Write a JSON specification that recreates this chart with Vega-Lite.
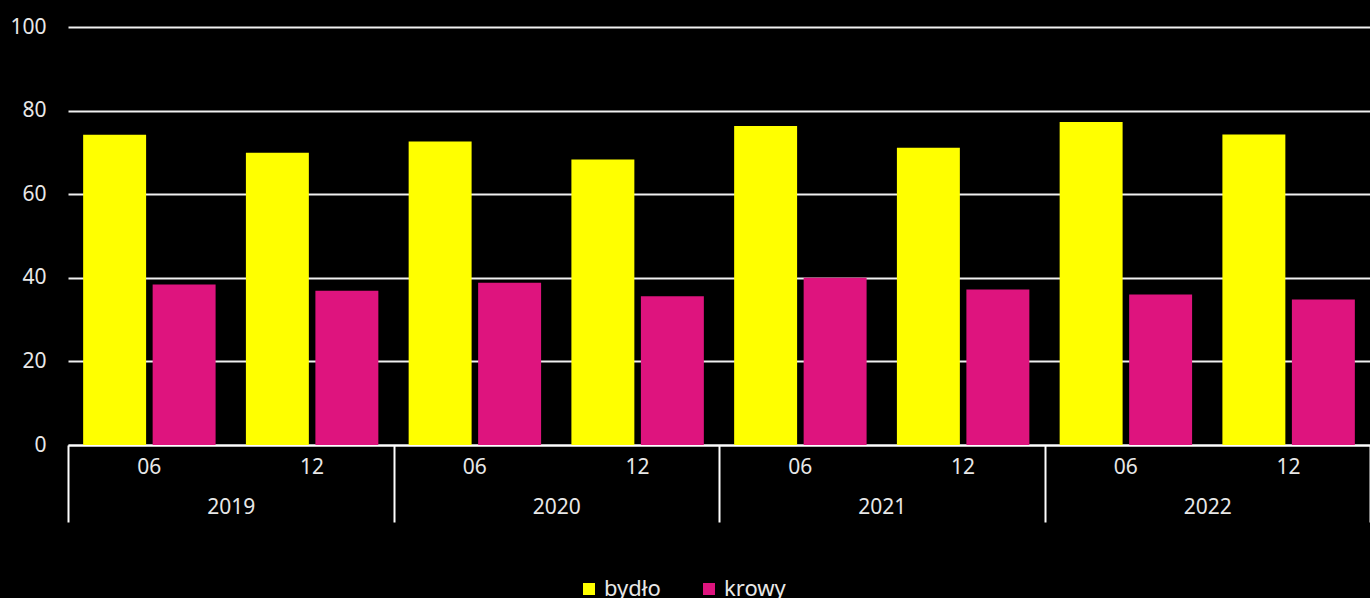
{
  "$schema": "https://vega.github.io/schema/vega-lite/v6.json",
  "width": 1302,
  "height": 418,
  "autosize": {"type": "none"},
  "padding": {"left": 68, "top": 27, "right": 0, "bottom": 153},
  "background": "#000000",
  "config": {
    "view": {"stroke": null},
    "font": "Noto Sans",
    "axis": {"labelFont": "Noto Sans", "labelColor": "#e8e8e8", "labelFontSize": 21},
    "legend": {"labelFont": "Noto Sans"}
  },
  "datasets": {
    "bars": [
      {"okres": "2019 06", "seria": "bydło", "wartosc": 74.2},
      {"okres": "2019 06", "seria": "krowy", "wartosc": 38.4},
      {"okres": "2019 12", "seria": "bydło", "wartosc": 69.9},
      {"okres": "2019 12", "seria": "krowy", "wartosc": 36.9},
      {"okres": "2020 06", "seria": "bydło", "wartosc": 72.6},
      {"okres": "2020 06", "seria": "krowy", "wartosc": 38.8},
      {"okres": "2020 12", "seria": "bydło", "wartosc": 68.3},
      {"okres": "2020 12", "seria": "krowy", "wartosc": 35.6},
      {"okres": "2021 06", "seria": "bydło", "wartosc": 76.3},
      {"okres": "2021 06", "seria": "krowy", "wartosc": 40.0},
      {"okres": "2021 12", "seria": "bydło", "wartosc": 71.1},
      {"okres": "2021 12", "seria": "krowy", "wartosc": 37.2},
      {"okres": "2022 06", "seria": "bydło", "wartosc": 77.3},
      {"okres": "2022 06", "seria": "krowy", "wartosc": 36.0},
      {"okres": "2022 12", "seria": "bydło", "wartosc": 74.3},
      {"okres": "2022 12", "seria": "krowy", "wartosc": 34.8}
    ],
    "years": [
      {"rok": "2019"},
      {"rok": "2020"},
      {"rok": "2021"},
      {"rok": "2022"}
    ]
  },
  "layer": [
    {
      "data": {"name": "bars"},
      "mark": {"type": "bar", "strokeWidth": 0},
      "encoding": {
        "x": {
          "field": "okres",
          "type": "ordinal",
          "sort": null,
          "scale": {"paddingInner": 0, "paddingOuter": 0},
          "axis": {
            "title": null,
            "labelExpr": "substring(datum.label, 5)",
            "labelAngle": 0,
            "ticks": false,
            "domain": true,
            "domainColor": "#ffffff",
            "domainWidth": 2,
            "labelPadding": 11,
            "grid": false
          }
        },
        "xOffset": {
          "field": "seria",
          "type": "nominal",
          "sort": ["bydło", "krowy"],
          "scale": {"paddingInner": 0.094, "paddingOuter": 0.218}
        },
        "y": {
          "field": "wartosc",
          "type": "quantitative",
          "scale": {"domain": [0, 100], "nice": false},
          "axis": {
            "title": null,
            "values": [0, 20, 40, 60, 80, 100],
            "grid": true,
            "gridColor": "#f0f0f0",
            "gridWidth": 2,
            "domain": false,
            "ticks": false,
            "labelPadding": 22
          }
        },
        "color": {
          "field": "seria",
          "type": "nominal",
          "scale": {"domain": ["bydło", "krowy"], "range": ["#FFFF00", "#DE147E"]},
          "legend": {
            "orient": "none",
            "legendX": 510,
            "legendY": 551,
            "direction": "horizontal",
            "title": null,
            "symbolType": "square",
            "symbolSize": 144,
            "symbolStrokeWidth": 0,
            "labelFontSize": 22,
            "labelColor": "#e8e8e8",
            "labelOffset": 4,
            "columnPadding": 37
          }
        }
      }
    },
    {
      "data": {"name": "years"},
      "mark": {"type": "bar", "opacity": 0},
      "encoding": {
        "x": {
          "field": "rok",
          "type": "ordinal",
          "scale": {"paddingInner": 0, "paddingOuter": 0},
          "axis": {
            "orient": "bottom",
            "title": null,
            "labelAngle": 0,
            "tickBand": "extent",
            "tickSize": 77,
            "tickColor": "#ffffff",
            "tickWidth": 2,
            "domain": false,
            "labelPadding": -26,
            "grid": false
          }
        }
      }
    }
  ],
  "resolve": {"scale": {"x": "independent"}}
}
